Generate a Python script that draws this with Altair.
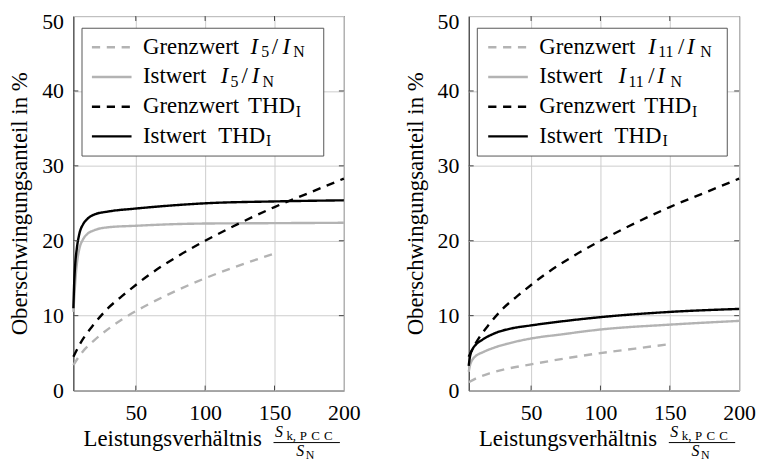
import altair as alt
import pandas as pd

FONT = "'Liberation Serif', 'Times New Roman', Tinos, 'DejaVu Serif', serif"
GRAY = "#b3b3b3"
BLACK = "#000000"
W, H = 273, 378

# ---------------- data ----------------
# left panel: 5th harmonic
x_grenz_I5 = [5, 10, 20, 30, 40, 50, 60, 80, 100, 120, 150]
y_grenz_I5 = [3.4, 4.8, 6.7, 8.2, 9.5, 10.6, 11.6, 13.4, 15.0, 16.4, 18.3]
x_ist_I5 = [5, 6, 7, 8, 9.4, 12, 15, 20, 30, 50, 75, 100, 150, 200]
y_ist_I5 = [10.5, 13.5, 16.0, 17.6, 19.0, 20.2, 20.9, 21.4, 21.8, 22.0, 22.2, 22.3, 22.35, 22.4]
x_grenz_thd = [5, 10, 20, 30, 40, 50, 60, 80, 100, 120, 150, 175, 200]
y_grenz_thd = [4.5, 6.3, 8.9, 11.0, 12.6, 14.1, 15.5, 17.9, 20.0, 21.9, 24.5, 26.4, 28.3]
x_ist_thd_5 = [5, 5.5, 6.3, 7.5, 9.4, 12, 15, 20, 30, 50, 75, 100, 150, 200]
y_ist_thd_5 = [11.0, 14.0, 16.8, 19.0, 21.0, 22.2, 22.9, 23.5, 23.9, 24.3, 24.7, 25.0, 25.25, 25.4]

# right panel: 11th harmonic
x_grenz_I11 = [5, 10, 20, 30, 50, 75, 100, 125, 150]
y_grenz_I11 = [1.1, 1.6, 2.3, 2.8, 3.5, 4.3, 5.0, 5.6, 6.2]
x_ist_I11 = [5, 6, 8, 10, 15, 24.5, 36, 50, 72, 100, 150, 200]
y_ist_I11 = [2.5, 3.4, 4.2, 4.6, 5.1, 5.8, 6.4, 6.95, 7.5, 8.15, 8.8, 9.3]
x_ist_thd_11 = [5, 6, 8, 10, 15, 24.5, 36, 50, 75, 100, 150, 200]
y_ist_thd_11 = [3.3, 4.6, 5.6, 6.1, 6.8, 7.7, 8.3, 8.7, 9.3, 9.8, 10.5, 10.9]

series_names = ["Grenzwert I", "Istwert I", "Grenzwert THD", "Istwert THD"]
x_tick_values = [50, 100, 150, 200]
y_tick_values = [0, 10, 20, 30, 40, 50]
x_inner_ticks = [50, 100, 150]
y_inner_ticks = [10, 20, 30, 40]

Y_TITLE = "Oberschwingungsanteil in %"
X_TITLE = "Leistungsverhältnis"

ONE = pd.DataFrame({"k": [0]})


def long_df(parts):
    rows = []
    for name, xs, ys in parts:
        for a, b in zip(xs, ys):
            rows.append({"series": name, "x": a, "y": b})
    return pd.DataFrame(rows)


def txt(t, px, py, size, italic=False, align="left"):
    return alt.Chart(ONE).mark_text(
        font=FONT, fontSize=size, fontStyle="italic" if italic else "normal",
        align=align, baseline="alphabetic", color="black"
    ).encode(x=alt.value(px), y=alt.value(py), text=alt.value(t))


def hrule(x1, x2, y, color, width=1.0, dash=None):
    kw = dict(color=color, strokeWidth=width)
    if dash:
        kw["strokeDash"] = dash
    return alt.Chart(ONE).mark_rule(**kw).encode(
        x=alt.value(x1), x2=alt.value(x2), y=alt.value(y))


DASH = [8.3, 6.7]


def panel(df, legend_segments, box_right, line_x0, line_x1):
    xenc = alt.X("x:Q", scale=alt.Scale(domain=[5, 200], nice=False, zero=False),
                 axis=alt.Axis(values=x_tick_values, title=None, grid=True, ticks=False,
                               domain=False, labelFlush=False, labelPadding=12,
                               labelFontSize=22, labelFont=FONT, labelColor="black",
                               gridColor="#cccccc", gridWidth=1))
    yenc = alt.Y("y:Q", scale=alt.Scale(domain=[0, 50], nice=False),
                 axis=alt.Axis(values=y_tick_values, title=Y_TITLE, grid=True, ticks=False,
                               domain=False, labelFlush=False,
                               labelBaseline={"condition": {"test": "datum.value == 50", "value": "top"},
                                              "value": "middle"},
                               labelOffset={"condition": {"test": "datum.value == 50", "value": -4},
                                            "value": 0},
                               labelPadding=10, labelFontSize=22, labelFont=FONT,
                               labelColor="black", titleFont=FONT, titleFontSize=23,
                               titleFontWeight="normal", titleColor="black",
                               titlePadding=10, gridColor="#cccccc", gridWidth=1))
    lines = alt.Chart(df).mark_line(strokeWidth=2.4, interpolate="monotone").encode(
        x=xenc, y=yenc,
        color=alt.Color("series:N", scale=alt.Scale(domain=series_names,
                                                    range=[GRAY, GRAY, BLACK, BLACK]),
                        legend=None),
        strokeDash=alt.StrokeDash("series:N", scale=alt.Scale(
            domain=series_names, range=[DASH, [1, 0], DASH, [1, 0]]), legend=None),
    )
    tcol = "#444444"
    ytl = alt.Chart(pd.DataFrame({"y": y_inner_ticks})).mark_rule(color=tcol, strokeWidth=1).encode(
        y="y:Q", x=alt.value(0), x2=alt.value(5))
    ytr = alt.Chart(pd.DataFrame({"y": y_inner_ticks})).mark_rule(color=tcol, strokeWidth=1).encode(
        y="y:Q", x=alt.value(W - 5), x2=alt.value(W))
    xtb = alt.Chart(pd.DataFrame({"x": x_inner_ticks})).mark_rule(color=tcol, strokeWidth=1).encode(
        x="x:Q", y=alt.value(H - 5), y2=alt.value(H))
    xtt = alt.Chart(pd.DataFrame({"x": x_inner_ticks})).mark_rule(color=tcol, strokeWidth=1).encode(
        x="x:Q", y=alt.value(0), y2=alt.value(5))

    box = alt.Chart(ONE).mark_rect(fill="white", stroke="#555555", strokeWidth=1).encode(
        x=alt.value(8.7), x2=alt.value(box_right), y=alt.value(12.3), y2=alt.value(141.3))

    layers = [lines, ytl, ytr, xtb, xtt, box]
    row_y = [31.5, 61.5, 91.5, 121.5]
    styles = [(GRAY, DASH), (GRAY, None), (BLACK, DASH), (BLACK, None)]
    for ry, (c, d) in zip(row_y, styles):
        layers.append(hrule(line_x0, line_x1, ry, c, 2.4, d))
    for seg in legend_segments:
        layers.append(txt(*seg))

    # x axis title with fraction
    layers += [
        txt(X_TITLE, 190.3, 434, 23, align="right"),
        txt("S", 203.5, 425, 16, italic=True),
        txt("k,", 215, 427.5, 13),
        txt("P", 228.5, 427.5, 13),
        txt("C", 240, 427.5, 13),
        txt("C", 253, 427.5, 13),
        hrule(202, 269, 430.5, "black", 1.0),
        txt("S", 225, 444.5, 16, italic=True),
        txt("N", 234.5, 447.5, 12),
    ]
    return alt.layer(*layers).properties(width=W, height=H)


# legend segments: (text, x, baseline y, size, italic)
b = [38, 68, 98, 128]
s = 3.5
left_leg = [
    ("Grenzwert", 70.3, b[0], 23), ("I", 178.7, b[0], 23, True), ("5", 189.7, b[0] + s, 16),
    ("/", 200.3, b[0], 23), ("I", 211, b[0], 23, True), ("N", 222, b[0] + s, 16),
    ("Istwert", 70.3, b[1], 23), ("I", 148.7, b[1], 23, True), ("5", 158.7, b[1] + s, 16),
    ("/", 169.7, b[1], 23), ("I", 180, b[1], 23, True), ("N", 191, b[1] + s, 16),
    ("Grenzwert", 70.3, b[2], 23), ("THD", 176.3, b[2], 23), ("I", 224.5, b[2] + s, 16),
    ("Istwert", 70.3, b[3], 23), ("THD", 146.3, b[3], 23), ("I", 194.5, b[3] + s, 16),
]
right_leg = [
    ("Grenzwert", 71.3, b[0], 23), ("I", 181.3, b[0], 23, True), ("11", 191.3, b[0] + s, 16),
    ("/", 211.3, b[0], 23), ("I", 220.3, b[0], 23, True), ("N", 233.7, b[0] + s, 16),
    ("Istwert", 71.3, b[1], 23), ("I", 151.3, b[1], 23, True), ("11", 161.3, b[1] + s, 16),
    ("/", 181.3, b[1], 23), ("I", 190.3, b[1], 23, True), ("N", 203.7, b[1] + s, 16),
    ("Grenzwert", 71.3, b[2], 23), ("THD", 177.3, b[2], 23), ("I", 225.5, b[2] + s, 16),
    ("Istwert", 71.3, b[3], 23), ("THD", 147.3, b[3], 23), ("I", 195.5, b[3] + s, 16),
]

df_left = long_df([
    ("Grenzwert I", x_grenz_I5, y_grenz_I5),
    ("Istwert I", x_ist_I5, y_ist_I5),
    ("Grenzwert THD", x_grenz_thd, y_grenz_thd),
    ("Istwert THD", x_ist_thd_5, y_ist_thd_5),
])
df_right = long_df([
    ("Grenzwert I", x_grenz_I11, y_grenz_I11),
    ("Istwert I", x_ist_I11, y_ist_I11),
    ("Grenzwert THD", x_grenz_thd, y_grenz_thd),
    ("Istwert THD", x_ist_thd_11, y_ist_thd_11),
])

left = panel(df_left, left_leg, 252.7, 18.7, 58.7)
right = panel(df_right, right_leg, 261, 19.7, 59.7)

chart = alt.hconcat(left, right, spacing=126, bounds="flush").properties(
    padding={"left": 0, "top": 0, "right": 0, "bottom": 0}
).configure_view(stroke="black", strokeWidth=1)

chart.save("out.html", embed_options={"renderer": "svg", "actions": False})
